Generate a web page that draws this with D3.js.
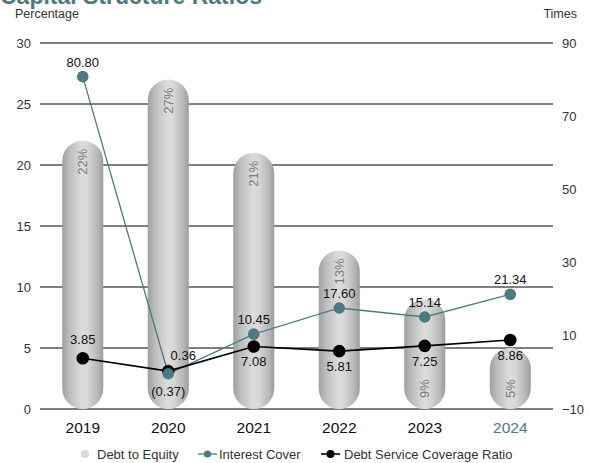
<!DOCTYPE html>
<html>
<head>
<meta charset="utf-8">
<script src="https://cdn.jsdelivr.net/npm/d3@7"></script>
<style>
  html, body { margin: 0; padding: 0; background: #fff; }
  svg { display: block; font-family: "Liberation Sans", Arial, Helvetica, sans-serif; }
</style>
</head>
<body>
<svg id="chart" width="590" height="463"></svg>
<script>
// Financial years
const years = ["2019", "2020", "2021", "2022", "2023", "2024"];
// Debt to equity (%), left axis
const debtToEquity = [22, 27, 21, 13, 9, 5];
// Interest cover (times), right axis
const interestCover = [80.80, -0.37, 10.45, 17.60, 15.14, 21.34];
// Debt service coverage ratio (times), right axis
const dscr = [3.85, 0.36, 7.08, 5.81, 7.25, 8.86];
// Axis ticks
const leftTicks = [0, 5, 10, 15, 20, 25, 30];
const rightTicks = [-10, 10, 30, 50, 70, 90];

const teal = "#4d7a81";
const svg = d3.select("#chart");

const x = d3.scaleBand().domain(years).range([40, 553]).paddingInner(0.52).paddingOuter(0.26);
const yL = d3.scaleLinear().domain([0, 30]).range([409, 43]);
const yR = d3.scaleLinear().domain([-10, 90]).range([409, 43]);
const cx = d => x(d) + x.bandwidth() / 2;

// Cylinder shading for the bars
const defs = svg.append("defs");
const grad = defs.append("linearGradient").attr("id", "barGrad").attr("x1", "0").attr("x2", "1").attr("y1", "0").attr("y2", "0");
[[0, "#9f9f9f"], [0.18, "#bdbdbd"], [0.48, "#dcdcdc"], [0.62, "#d7d7d7"], [0.88, "#b5b5b5"], [1, "#9c9c9c"]]
  .forEach(([o, c]) => grad.append("stop").attr("offset", o).attr("stop-color", c));

// Title and axis captions
svg.append("text").attr("x", 0).attr("y", 3.5).attr("font-size", 23).attr("font-weight", "bold")
  .attr("fill", teal).text("Capital Structure Ratios");
svg.append("text").attr("x", 15).attr("y", 18).attr("font-size", 12.5).attr("fill", "#333").text("Percentage");
svg.append("text").attr("x", 577).attr("y", 18).attr("font-size", 12.5).attr("fill", "#333")
  .attr("text-anchor", "end").text("Times");

// Horizontal grid lines
svg.append("g").selectAll("line").data(leftTicks).join("line")
  .attr("x1", 40).attr("x2", 553)
  .attr("y1", d => yL(d)).attr("y2", d => yL(d))
  .attr("stroke", "#000").attr("stroke-width", 1.1);

// Left axis
const leftAxis = d3.axisLeft(yL).tickValues(leftTicks).tickSize(0).tickPadding(0);
svg.append("g").attr("transform", "translate(31,0)").call(leftAxis)
  .call(g => g.select(".domain").remove())
  .call(g => g.selectAll("text").attr("font-size", 13).attr("fill", "#333").attr("font-family", null));

// Right axis
const rightAxis = d3.axisRight(yR).tickValues(rightTicks).tickSize(0).tickPadding(0);
svg.append("g").attr("transform", "translate(562,0)").call(rightAxis)
  .call(g => g.select(".domain").remove())
  .call(g => g.selectAll("text").attr("font-size", 13).attr("fill", "#333").attr("font-family", null));

// Year labels
const bottomAxis = d3.axisBottom(x).tickSize(0).tickPadding(0);
svg.append("g").attr("transform", "translate(0,422)").call(bottomAxis)
  .call(g => g.select(".domain").remove())
  .call(g => g.selectAll("text").attr("font-size", 15.5).attr("font-family", null)
    .attr("fill", d => d === "2024" ? teal : "#111"));

// Capsule bars
const bw = x.bandwidth();
svg.append("g").selectAll("rect").data(years).join("rect")
  .attr("x", d => x(d))
  .attr("width", bw)
  .attr("y", (d, i) => yL(debtToEquity[i]))
  .attr("height", (d, i) => yL(0) - yL(debtToEquity[i]))
  .attr("rx", bw / 2).attr("ry", bw / 2)
  .attr("fill", "url(#barGrad)");

// Rotated percentage labels inside the bars
svg.append("g").selectAll("text").data(years).join("text")
  .attr("transform", (d, i) => {
    const v = debtToEquity[i];
    const yy = v < 10 ? yL(0) - 11 : yL(v) + 8;
    return `translate(${cx(d)},${yy}) rotate(-90)`;
  })
  .attr("text-anchor", (d, i) => debtToEquity[i] < 10 ? "start" : "end")
  .attr("dominant-baseline", "central")
  .attr("font-size", 13).attr("fill", "#7a7a7a")
  .text((d, i) => debtToEquity[i] + "%");

// Interest cover line
const line = arr => d3.line().x((d, i) => cx(years[i])).y(d => yR(d))(arr);
svg.append("path").attr("d", line(interestCover)).attr("fill", "none")
  .attr("stroke", teal).attr("stroke-width", 1.3);

// Debt service coverage line
svg.append("path").attr("d", line(dscr)).attr("fill", "none")
  .attr("stroke", "#000").attr("stroke-width", 1.6);

svg.append("g").selectAll("circle").data(dscr).join("circle")
  .attr("cx", (d, i) => cx(years[i])).attr("cy", d => yR(d)).attr("r", 6.3).attr("fill", "#000");
svg.append("g").selectAll("circle").data(interestCover).join("circle")
  .attr("cx", (d, i) => cx(years[i])).attr("cy", d => yR(d)).attr("r", 5.8).attr("fill", teal);

const fmt = v => v < 0 ? `(${Math.abs(v).toFixed(2)})` : v.toFixed(2);

// Value labels: interest cover sits above its points, except the negative year
svg.append("g").selectAll("text").data(interestCover).join("text")
  .attr("x", (d, i) => cx(years[i]))
  .attr("y", d => yR(d) + (d < 0 ? 22 : -10))
  .attr("text-anchor", "middle").attr("font-size", 13).attr("fill", "#111")
  .text(fmt);

// Value labels: debt service coverage
const dscrPlace = ["above", "right", "below", "below", "below", "below"];
svg.append("g").selectAll("text").data(dscr).join("text")
  .attr("x", (d, i) => cx(years[i]) + (dscrPlace[i] === "right" ? 15 : 0))
  .attr("y", (d, i) => yR(d) + (dscrPlace[i] === "above" ? -14 : dscrPlace[i] === "right" ? -11 : 20))
  .attr("text-anchor", "middle").attr("font-size", 13).attr("fill", "#111")
  .text(fmt);

// Legend
const lg = svg.append("g").attr("font-size", 13).attr("fill", "#333");
lg.append("circle").attr("cx", 85).attr("cy", 454).attr("r", 4).attr("fill", "#d9d9d9");
lg.append("text").attr("x", 97).attr("y", 458.5).text("Debt to Equity");
lg.append("line").attr("x1", 198).attr("x2", 217).attr("y1", 454).attr("y2", 454).attr("stroke", teal).attr("stroke-width", 1.3);
lg.append("circle").attr("cx", 207.5).attr("cy", 454).attr("r", 3.6).attr("fill", teal);
lg.append("text").attr("x", 219).attr("y", 458.5).text("Interest Cover");
lg.append("line").attr("x1", 321).attr("x2", 340).attr("y1", 454).attr("y2", 454).attr("stroke", "#000").attr("stroke-width", 1.6);
lg.append("circle").attr("cx", 330.5).attr("cy", 454).attr("r", 4).attr("fill", "#000");
lg.append("text").attr("x", 344).attr("y", 458.5).text("Debt Service Coverage Ratio");
</script>
</body>
</html>
